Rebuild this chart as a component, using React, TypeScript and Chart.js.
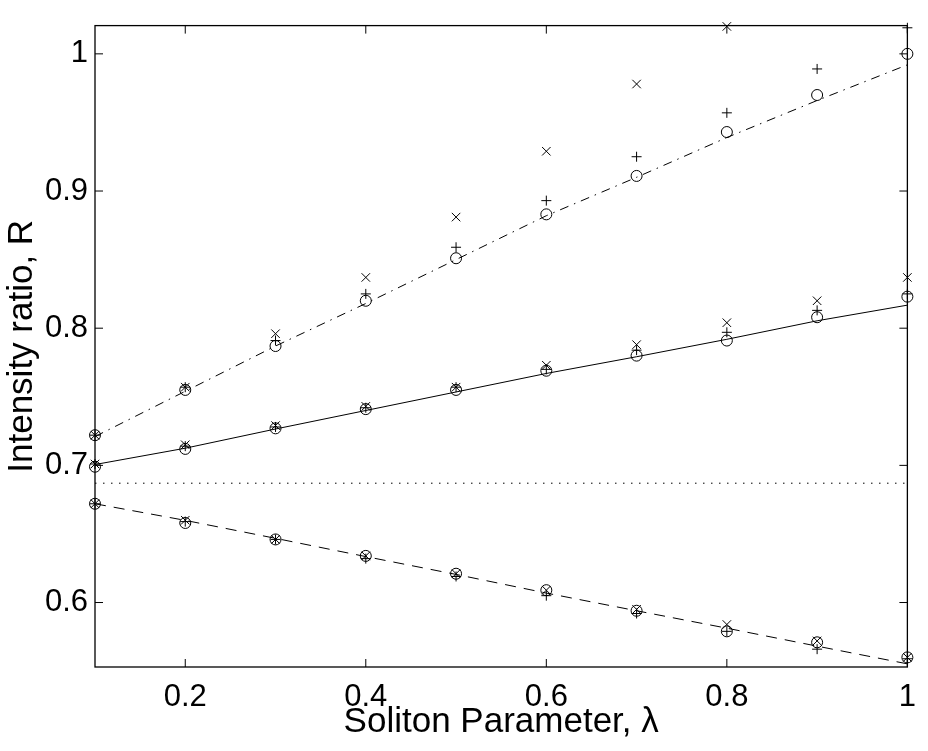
import { useEffect, useRef } from "react";
import { Chart, registerables, type ChartConfiguration, type Plugin } from "chart.js";

Chart.register(...registerables);

// soliton parameter values where R was computed
const LAMBDA = [0.1, 0.2, 0.3, 0.4, 0.5, 0.6, 0.7, 0.8, 0.9, 1.0];

// upper branch (dash-dot curve)
const UPPER_LINE = [0.721, 0.754, 0.787, 0.818, 0.85, 0.882, 0.91, 0.939, 0.966, 0.992];
const UPPER_CIRCLE = [0.722, 0.755, 0.787, 0.82, 0.851, 0.883, 0.911, 0.943, 0.97, 1.0];
const UPPER_PLUS = [0.722, 0.757, 0.791, 0.825, 0.859, 0.893, 0.925, 0.957, 0.989, 1.019];
const UPPER_CROSS = [0.722, 0.757, 0.796, 0.837, 0.881, 0.929, 0.978, 1.02, null, null];

// middle branch (solid curve)
const MID_LINE = [0.7006, 0.7125, 0.7265, 0.74, 0.7535, 0.767, 0.7792, 0.7919, 0.8054, 0.8168];
const MID_CIRCLE = [0.699, 0.712, 0.727, 0.741, 0.755, 0.769, 0.78, 0.791, 0.808, 0.823];
const MID_PLUS = [0.701, 0.714, 0.728, 0.742, 0.757, 0.77, 0.784, 0.797, 0.813, 0.825];
const MID_CROSS = [0.701, 0.715, 0.729, 0.743, 0.757, 0.773, 0.788, 0.804, 0.82, 0.837];

// lower branch (dashed curve)
const LOW_LINE = [0.672, 0.6599, 0.6468, 0.6335, 0.6205, 0.6069, 0.594, 0.5813, 0.5682, 0.5553];
const LOW_CIRCLE = [0.672, 0.658, 0.646, 0.634, 0.621, 0.609, 0.594, 0.579, 0.571, 0.56];
const LOW_PLUS = [0.672, 0.659, 0.646, 0.632, 0.619, 0.605, 0.592, 0.579, 0.566, 0.559];
const LOW_CROSS = [0.672, 0.66, 0.646, 0.634, 0.621, 0.609, 0.595, 0.584, 0.572, 0.56];

// horizontal reference level (dotted)
const LEVEL_X = [0.1, 1.0];
const LEVEL_Y = [0.687, 0.687];

const X_TICKS = [0.2, 0.4, 0.6, 0.8, 1];
const Y_TICKS = [0.6, 0.7, 0.8, 0.9, 1];

const FONT = "'Liberation Sans', Arial, Helvetica, sans-serif";

const pts = (xs: number[], ys: (number | null)[]) =>
  xs.map((x, i) => ({ x, y: ys[i] })).filter((p) => p.y !== null) as { x: number; y: number }[];

const lineSet = (ys: number[], xs: number[], dash: number[]) => ({
  data: pts(xs, ys),
  showLine: true,
  borderColor: "#000",
  borderWidth: 1,
  borderDash: dash,
  pointRadius: 0,
  fill: false,
});

const markerSet = (ys: (number | null)[], style: string, radius: number) => ({
  data: pts(LAMBDA, ys),
  showLine: false,
  pointStyle: style,
  pointRadius: radius,
  pointBorderWidth: 1,
  pointBorderColor: "#000",
  pointBackgroundColor: "rgba(0,0,0,0)",
  clip: false as const,
});

// frame with inward ticks on all four sides, MATLAB style
const frameTicks: Plugin<"scatter"> = {
  id: "frameTicks",
  beforeDatasetsDraw(chart) {
    const { ctx, chartArea: a } = chart;
    const x = chart.scales.x;
    const y = chart.scales.y;
    const len = 8;
    ctx.save();
    ctx.strokeStyle = "#000";
    ctx.lineWidth = 1.3;
    ctx.strokeRect(a.left, a.top, a.right - a.left, a.bottom - a.top);
    ctx.lineWidth = 1;
    ctx.beginPath();
    for (const v of X_TICKS) {
      const px = x.getPixelForValue(v);
      ctx.moveTo(px, a.bottom);
      ctx.lineTo(px, a.bottom - len);
      ctx.moveTo(px, a.top);
      ctx.lineTo(px, a.top + len);
    }
    for (const v of Y_TICKS) {
      const py = y.getPixelForValue(v);
      ctx.moveTo(a.left, py);
      ctx.lineTo(a.left + len, py);
      ctx.moveTo(a.right, py);
      ctx.lineTo(a.right - len, py);
    }
    ctx.stroke();
    ctx.restore();
  },
};

export default function App() {
  const canvasRef = useRef<HTMLCanvasElement>(null);

  useEffect(() => {
    if (!canvasRef.current) return;
    const config: ChartConfiguration<"scatter"> = {
      type: "scatter",
      data: {
        datasets: [
          lineSet(LEVEL_Y, LEVEL_X, [1.5, 6.5]) as any,
          lineSet(UPPER_LINE, LAMBDA, [9, 6, 1.5, 6]) as any,
          lineSet(MID_LINE, LAMBDA, []) as any,
          lineSet(LOW_LINE, LAMBDA, [11, 8]) as any,
          markerSet(UPPER_CIRCLE, "circle", 5.5) as any,
          markerSet(UPPER_PLUS, "cross", 5) as any,
          markerSet(UPPER_CROSS, "crossRot", 6) as any,
          markerSet(MID_CIRCLE, "circle", 5.5) as any,
          markerSet(MID_PLUS, "cross", 5) as any,
          markerSet(MID_CROSS, "crossRot", 6) as any,
          markerSet(LOW_CIRCLE, "circle", 5.5) as any,
          markerSet(LOW_PLUS, "cross", 5) as any,
          markerSet(LOW_CROSS, "crossRot", 6) as any,
        ],
      },
      options: {
        animation: false,
        responsive: true,
        maintainAspectRatio: false,
        layout: { padding: { top: 24, right: 18, left: 0, bottom: 0 } },
        plugins: {
          legend: { display: false },
          tooltip: { enabled: false },
        },
        scales: {
          x: {
            type: "linear",
            min: 0.1,
            max: 1,
            grid: { display: false, drawTicks: false },
            border: { display: false },
            afterBuildTicks: (s) => {
              s.ticks = X_TICKS.map((value) => ({ value }));
            },
            afterFit: (s) => {
              s.height = 84;
            },
            ticks: {
              color: "#000",
              padding: 12,
              font: { family: FONT, size: 31 },
              callback: (v) => String(v),
            },
            title: {
              display: true,
              text: "Soliton Parameter, λ",
              color: "#000",
              font: { family: FONT, size: 35 },
              padding: { top: 0, bottom: 8 },
            },
          },
          y: {
            type: "linear",
            min: 0.553,
            max: 1.0206,
            grid: { display: false, drawTicks: false },
            border: { display: false },
            afterBuildTicks: (s) => {
              s.ticks = Y_TICKS.map((value) => ({ value }));
            },
            afterFit: (s) => {
              s.width = 95;
            },
            ticks: {
              color: "#000",
              padding: 7,
              font: { family: FONT, size: 31 },
              callback: (v) => String(v),
            },
            title: {
              display: true,
              text: "Intensity ratio, R",
              color: "#000",
              font: { family: FONT, size: 35 },
              padding: { top: 1, bottom: 0 },
            },
          },
        },
      },
      plugins: [frameTicks],
    };
    const chart = new Chart(canvasRef.current, config);
    return () => chart.destroy();
  }, []);

  return (
    <div style={{ position: "absolute", left: 0, top: 0, width: 928, height: 751, background: "#fff" }}>
      <canvas ref={canvasRef} />
    </div>
  );
}
